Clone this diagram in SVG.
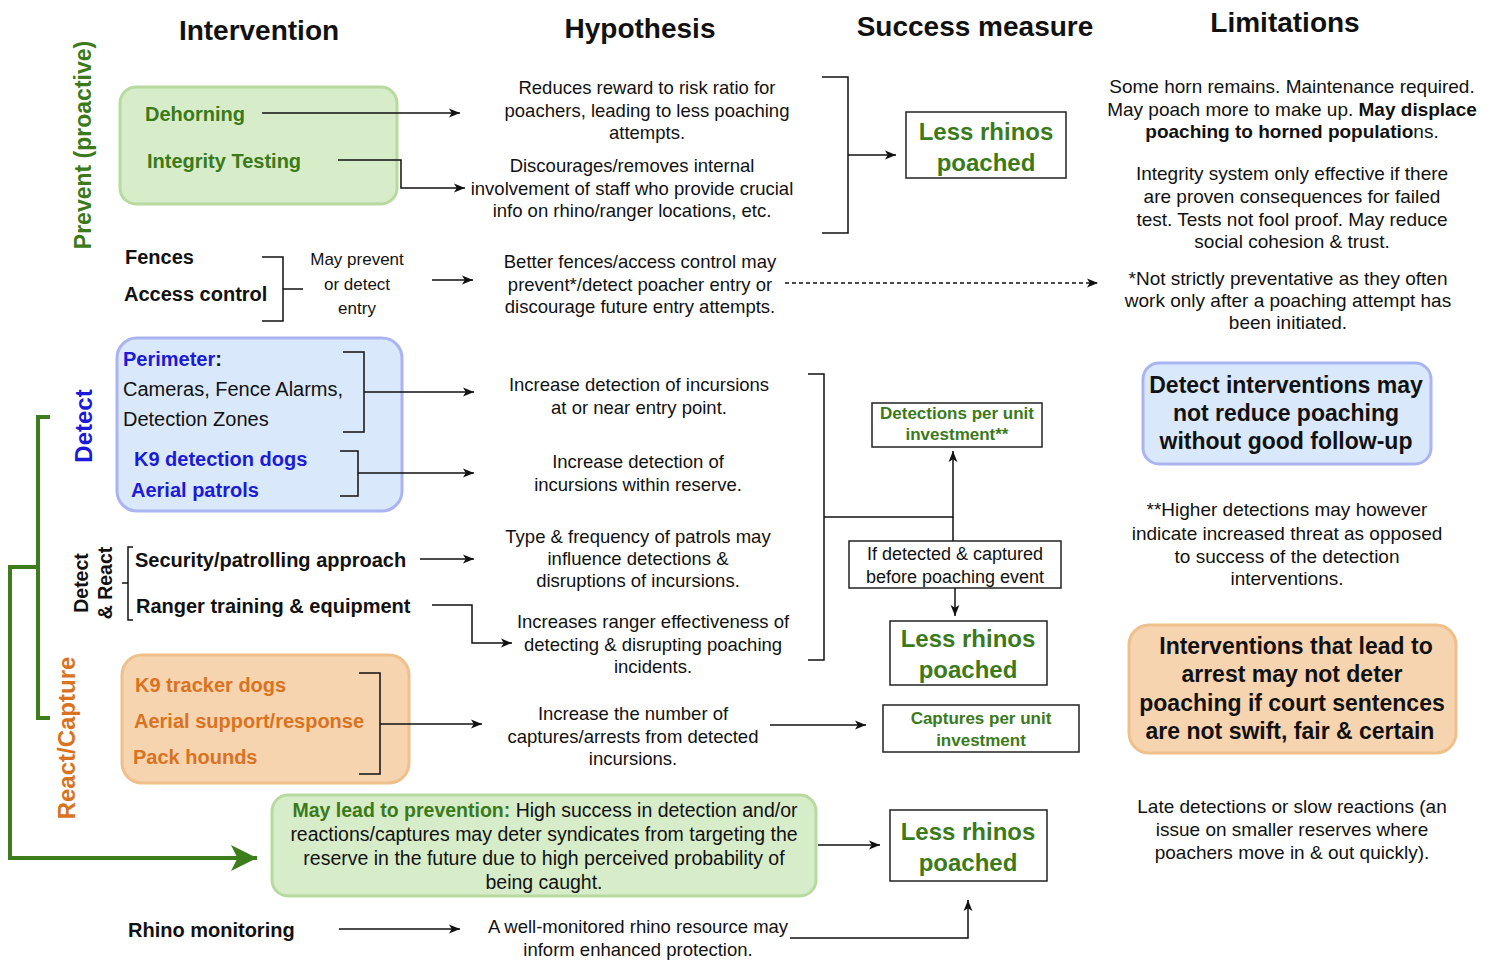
<svg xmlns="http://www.w3.org/2000/svg" width="1493" height="962" viewBox="0 0 1493 962">
<style>
text{font-family:"Liberation Sans",Arial,Helvetica,sans-serif;fill:#111}
.hdr{font-size:28px;font-weight:bold;text-anchor:middle}
.hyp{font-size:18.5px;text-anchor:middle}
.lim{font-size:19px;text-anchor:middle}
.b{font-weight:bold}
.gr{fill:#3b7a1a}
.bl{fill:#1a1ad8}
.or{fill:#d9731f}
.int{font-size:20px;font-weight:bold}
.rh{font-size:24px;font-weight:bold;text-anchor:middle;fill:#3b7a1a}
.sm{font-size:17px;font-weight:bold;text-anchor:middle;fill:#3b7a1a}
.box{fill:#fff;stroke:#222;stroke-width:1.5}
.gbox{fill:#d7ecc8;stroke:#b8d9a0;stroke-width:3}
.bbox{fill:#dae8fc;stroke:#aab4f0;stroke-width:3}
.obox{fill:#f7d4b0;stroke:#efbf8c;stroke-width:3}
.ln{fill:none;stroke:#111;stroke-width:1.5}
.gl{fill:none;stroke:#3d7d1c;stroke-width:4}
.vt{font-size:23px;font-weight:bold;text-anchor:middle}
</style>
<defs>
<marker id="ah" viewBox="0 0 10 10" refX="10" refY="5" markerWidth="11" markerHeight="11" markerUnits="userSpaceOnUse" orient="auto"><path d="M0,1 L10,5 L0,9 L2.5,5 z" fill="#111"/></marker>
<marker id="gah" viewBox="0 0 20 20" refX="20" refY="10" markerWidth="26" markerHeight="26" markerUnits="userSpaceOnUse" orient="auto"><path d="M0,0 L20,10 L0,20 L5,10 z" fill="#3d7d1c"/></marker>
</defs>
<rect width="1493" height="962" fill="#fff"/>

<g id="headers">
<text class="hdr" x="259" y="40">Intervention</text>
<text class="hdr" x="640" y="38">Hypothesis</text>
<text class="hdr" x="975" y="36">Success measure</text>
<text class="hdr" x="1285" y="32">Limitations</text>
</g>

<g id="side-labels">
<text class="vt gr" transform="translate(91,145) rotate(-90)">Prevent (proactive)</text>
<text class="vt bl" style="font-size:24px" transform="translate(92,426) rotate(-90)">Detect</text>
<text class="vt" style="font-size:19.5px" transform="translate(88,583) rotate(-90)">Detect</text>
<text class="vt" style="font-size:19.5px" transform="translate(112,583) rotate(-90)">&amp; React</text>
<text class="vt or" style="font-size:24px" transform="translate(75,738) rotate(-90)">React/Capture</text>
</g>

<g id="prevent-box">
<rect class="gbox" x="120" y="87" width="277" height="117" rx="16"/>
<text class="int gr" x="145" y="121">Dehorning</text>
<text class="int gr" x="147" y="168">Integrity Testing</text>
</g>

<g id="fences">
<text class="int" x="125" y="264">Fences</text>
<text class="int" x="124" y="301">Access control</text>
<text style="font-size:17px;text-anchor:middle" x="357" y="265">May prevent</text>
<text style="font-size:17px;text-anchor:middle" x="357" y="290">or detect</text>
<text style="font-size:17px;text-anchor:middle" x="357" y="314">entry</text>
</g>

<g id="detect-box">
<rect class="bbox" x="117" y="338" width="285" height="173" rx="20"/>
<text class="int" x="123" y="366"><tspan class="bl">Perimeter</tspan>:</text>
<text style="font-size:20px" x="123" y="396">Cameras, Fence Alarms,</text>
<text style="font-size:20px" x="123" y="426">Detection Zones</text>
<text class="int bl" x="134" y="466">K9 detection dogs</text>
<text class="int bl" x="131" y="497">Aerial patrols</text>
</g>

<g id="detect-react">
<text class="int" x="135" y="567">Security/patrolling approach</text>
<text class="int" x="136" y="613">Ranger training &amp; equipment</text>
</g>

<g id="react-box">
<rect class="obox" x="122" y="655" width="287" height="128" rx="20"/>
<text class="int or" x="135" y="692">K9 tracker dogs</text>
<text class="int or" x="134" y="728">Aerial support/response</text>
<text class="int or" x="133" y="764">Pack hounds</text>
</g>

<g id="prevention-box">
<rect class="gbox" x="272" y="795" width="544" height="101" rx="16"/>
<text style="font-size:19.5px;text-anchor:middle" x="545" y="817"><tspan class="b gr">May lead to prevention:</tspan> High success in detection and/or</text>
<text style="font-size:19.5px;text-anchor:middle" x="544" y="841">reactions/captures may deter syndicates from targeting the</text>
<text style="font-size:19.5px;text-anchor:middle" x="544" y="865">reserve in the future due to high perceived probability of</text>
<text style="font-size:19.5px;text-anchor:middle" x="544" y="889">being caught.</text>
</g>

<g id="rhino-monitoring">
<text class="int" x="128" y="937">Rhino monitoring</text>
</g>

<g id="hypotheses">
<text class="hyp" x="647" y="94">Reduces reward to risk ratio for</text>
<text class="hyp" x="647" y="116.5">poachers, leading to less poaching</text>
<text class="hyp" x="647" y="139">attempts.</text>
<text class="hyp" x="632" y="171.5">Discourages/removes internal</text>
<text class="hyp" x="632" y="194.5">involvement of staff who provide crucial</text>
<text class="hyp" x="632" y="217">info on rhino/ranger locations, etc.</text>
<text class="hyp" x="640" y="267.5">Better fences/access control may</text>
<text class="hyp" x="640" y="290.5">prevent*/detect poacher entry or</text>
<text class="hyp" x="640" y="313">discourage future entry attempts.</text>
<text class="hyp" x="639" y="390.5">Increase detection of incursions</text>
<text class="hyp" x="639" y="413.5">at or near entry point.</text>
<text class="hyp" x="638" y="467.5">Increase detection of</text>
<text class="hyp" x="638" y="490.5">incursions within reserve.</text>
<text class="hyp" x="638" y="542.5">Type &amp; frequency of patrols may</text>
<text class="hyp" x="638" y="565">influence detections &amp;</text>
<text class="hyp" x="638" y="587">disruptions of incursions.</text>
<text class="hyp" x="653" y="627.5">Increases ranger effectiveness of</text>
<text class="hyp" x="653" y="651">detecting &amp; disrupting poaching</text>
<text class="hyp" x="653" y="673">incidents.</text>
<text class="hyp" x="633" y="719.5">Increase the number of</text>
<text class="hyp" x="633" y="742.5">captures/arrests from detected</text>
<text class="hyp" x="633" y="764.5">incursions.</text>
<text class="hyp" x="638" y="932.5">A well-monitored rhino resource may</text>
<text class="hyp" x="638" y="955.5">inform enhanced protection.</text>
</g>

<g id="less-rhinos-1">
<rect class="box" x="906" y="112" width="160" height="66"/>
<text class="rh" x="986" y="139.5">Less rhinos</text>
<text class="rh" x="986" y="170.5">poached</text>
</g>

<g id="detections-box">
<rect class="box" x="872" y="403" width="170" height="44"/>
<text class="sm" x="957" y="419">Detections per unit</text>
<text class="sm" x="957" y="440">investment**</text>
</g>

<g id="if-detected">
<rect class="box" x="849" y="541" width="212" height="47"/>
<text style="font-size:18px;text-anchor:middle" x="955" y="559.5">If detected &amp; captured</text>
<text style="font-size:18px;text-anchor:middle" x="955" y="582.5">before poaching event</text>
</g>

<g id="less-rhinos-2">
<rect class="box" x="890" y="621" width="157" height="64"/>
<text class="rh" x="968" y="646.5">Less rhinos</text>
<text class="rh" x="968" y="677.5">poached</text>
</g>

<g id="captures-box">
<rect class="box" x="883" y="705" width="196" height="47"/>
<text class="sm" x="981" y="724">Captures per unit</text>
<text class="sm" x="981" y="746">investment</text>
</g>

<g id="less-rhinos-3">
<rect class="box" x="890" y="810" width="157" height="71"/>
<text class="rh" x="968" y="839.5">Less rhinos</text>
<text class="rh" x="968" y="870.5">poached</text>
</g>

<g id="limitations">
<text class="lim" x="1292" y="93">Some horn remains. Maintenance required.</text>
<text class="lim" x="1292" y="116">May poach more to make up. <tspan class="b">May displace</tspan></text>
<text class="lim" x="1292" y="138"><tspan class="b">poaching to horned populatio</tspan>ns.</text>
<text class="lim" x="1292" y="180">Integrity system only effective if there</text>
<text class="lim" x="1292" y="203">are proven consequences for failed</text>
<text class="lim" x="1292" y="226">test. Tests not fool proof. May reduce</text>
<text class="lim" x="1292" y="248">social cohesion &amp; trust.</text>
<text class="lim" x="1288" y="285">*Not strictly preventative as they often</text>
<text class="lim" x="1288" y="307">work only after a poaching attempt has</text>
<text class="lim" x="1288" y="329">been initiated.</text>
<text class="lim" x="1287" y="516">**Higher detections may however</text>
<text class="lim" x="1287" y="540">indicate increased threat as opposed</text>
<text class="lim" x="1287" y="563">to success of the detection</text>
<text class="lim" x="1287" y="585">interventions.</text>
<text class="lim" x="1292" y="813">Late detections or slow reactions (an</text>
<text class="lim" x="1292" y="836">issue on smaller reserves where</text>
<text class="lim" x="1292" y="859">poachers move in &amp; out quickly).</text>
</g>

<g id="detect-limitation">
<rect class="bbox" x="1143" y="363" width="288" height="101" rx="16"/>
<text class="b" style="font-size:23px;text-anchor:middle" x="1286" y="393">Detect interventions may</text>
<text class="b" style="font-size:23px;text-anchor:middle" x="1286" y="421">not reduce poaching</text>
<text class="b" style="font-size:23px;text-anchor:middle" x="1286" y="449">without good follow-up</text>
</g>

<g id="react-limitation">
<rect class="obox" x="1129" y="625" width="327" height="128" rx="20"/>
<text class="b" style="font-size:23px;text-anchor:middle" x="1296" y="654">Interventions that lead to</text>
<text class="b" style="font-size:23px;text-anchor:middle" x="1292" y="682">arrest may not deter</text>
<text class="b" style="font-size:23px;text-anchor:middle" x="1292" y="711">poaching if court sentences</text>
<text class="b" style="font-size:23px;text-anchor:middle" x="1290" y="739">are not swift, fair &amp; certain</text>
</g>

<g id="connectors">
<line class="ln" x1="262" y1="113" x2="460" y2="113" marker-end="url(#ah)"/>
<polyline class="ln" points="338,160 401,160 401,188 465,188" marker-end="url(#ah)"/>
<polyline class="ln" points="822,77 848,77 848,233 822,233"/>
<line class="ln" x1="848" y1="155" x2="896" y2="155" marker-end="url(#ah)"/>
<polyline class="ln" points="262,257 283,257 283,321 262,321"/>
<line class="ln" x1="283" y1="289" x2="303" y2="289"/>
<line class="ln" x1="432" y1="280" x2="473" y2="280" marker-end="url(#ah)"/>
<line class="ln" x1="785" y1="283" x2="1098" y2="283" stroke-dasharray="4,3" marker-end="url(#ah)"/>
<polyline class="ln" points="343,352 364,352 364,432 343,432"/>
<line class="ln" x1="364" y1="392" x2="474" y2="392" marker-end="url(#ah)"/>
<polyline class="ln" points="340,451 358,451 358,496 340,496"/>
<line class="ln" x1="358" y1="473" x2="474" y2="473" marker-end="url(#ah)"/>
<polyline class="ln" points="133,547 128,547 128,620 133,620"/>
<line class="ln" x1="128" y1="583" x2="122" y2="583"/>
<line class="ln" x1="420" y1="559" x2="474" y2="559" marker-end="url(#ah)"/>
<polyline class="ln" points="432,605 472,605 472,643 512,643" marker-end="url(#ah)"/>
<polyline class="ln" points="808,374 824,374 824,660 808,660"/>
<polyline class="ln" points="824,517 953,517 953,451" marker-end="url(#ah)"/>
<line class="ln" x1="953" y1="517" x2="953" y2="541"/>
<line class="ln" x1="955" y1="588" x2="955" y2="616" marker-end="url(#ah)"/>
<polyline class="ln" points="359,673 380,673 380,774 359,774"/>
<line class="ln" x1="380" y1="724" x2="482" y2="724" marker-end="url(#ah)"/>
<line class="ln" x1="770" y1="725" x2="866" y2="725" marker-end="url(#ah)"/>
<line class="ln" x1="818" y1="845" x2="880" y2="845" marker-end="url(#ah)"/>
<line class="ln" x1="339" y1="929" x2="460" y2="929" marker-end="url(#ah)"/>
<polyline class="ln" points="790,938 968,938 968,900" marker-end="url(#ah)"/>
<polyline class="gl" points="50,417 38,417 38,718 50,718"/>
<polyline class="gl" points="38,567 10,567 10,858 257,858" marker-end="url(#gah)"/>
</g>
</svg>
